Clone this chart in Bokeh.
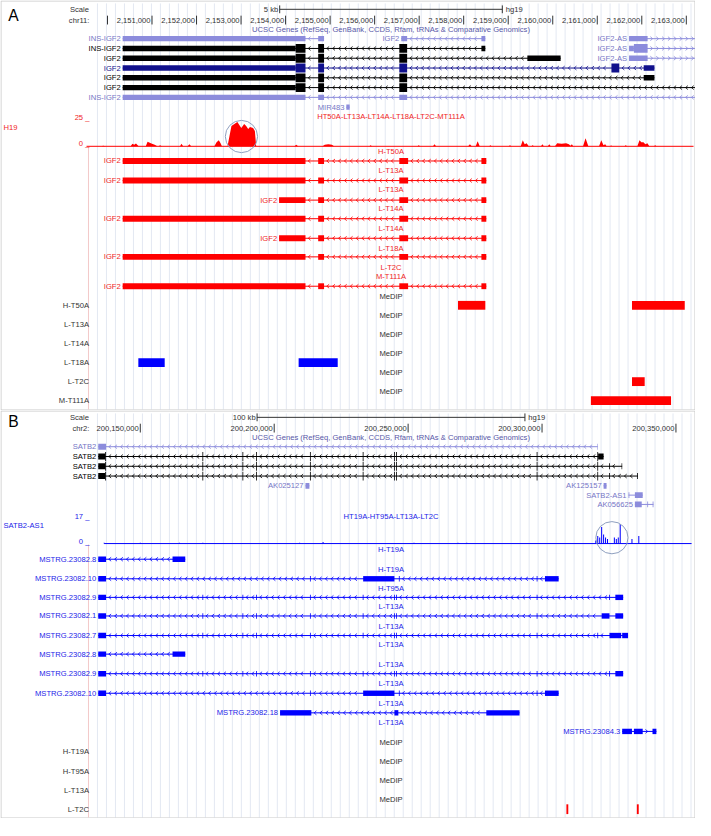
from bokeh.plotting import figure
from bokeh.models import Range1d, ColumnDataSource
from bokeh.layouts import column
from bokeh.embed import file_html
from bokeh.resources import INLINE
from bokeh.core.properties import value

S = 695 / 711.0
FONT = value("Liberation Sans")

# ---------------- colours ----------------
RED, RED_T = "#ff0000", "#f01e1e"
BLUE, BLUE_T = "#0000ff", "#2323e8"
LIGHT, LIGHT_T = "#8c8cdc", "#7676c6"
NAVY = "#10108c"
BLACK = "#000000"
DARK_T = "#333333"
GRID = "#e3e8f2"
FRAME = "#c8c8c8"
SEP = "#f3c9c9"
RING = "#8fa0c0"
CLASS_COL = {"light": LIGHT, "black": BLACK, "navy": NAVY}
CLASS_TXT = {"light": LIGHT_T, "black": BLACK, "navy": NAVY}

# ================= Panel A data (chr11, hg19) =================
A_CHROM = "chr11:"
A_TICKS = [2150000, 2151000, 2152000, 2153000, 2154000, 2155000, 2156000,
           2157000, 2158000, 2159000, 2160000, 2161000, 2162000, 2163000]
A_TICK_LABELS = ["", "2,151,000", "2,152,000", "2,153,000", "2,154,000", "2,155,000",
                 "2,156,000", "2,157,000", "2,158,000", "2,159,000", "2,160,000",
                 "2,161,000", "2,162,000", "2,163,000"]
A_SCALE_BP = 5000
A_SCALE_LABEL = "5 kb"
A_TRACK_TITLE = "UCSC Genes (RefSeq, GenBank, CCDS, Rfam, tRNAs & Comparative Genomics)"

A_GENE_NAMES = ["INS-IGF2", "IGF2", "IGF2-AS", "INS-IGF2", "IGF2-AS", "IGF2", "IGF2-AS",
                "IGF2", "IGF2", "IGF2", "INS-IGF2", "MIR483"]
A_GENE_CLASS = ["light", "light", "light", "black", "light", "black", "light",
                "navy", "black", "black", "light", "light"]
A_GENE_EXONS = [
    [(2150341, 2154447), (2154732, 2154864)],
    [(2156598, 2156730), (2158398, 2158486)],
    [(2161714, 2162131)],
    [(2150341, 2154447), (2154732, 2154864), (2156554, 2156730), (2158398, 2158486)],
    [(2161714, 2162131)],
    [(2150341, 2154447), (2154732, 2154864), (2156554, 2156730), (2159430, 2160177)],
    [(2161714, 2162131)],
    [(2150341, 2154447), (2154732, 2154864), (2156554, 2156730), (2161318, 2161494), (2162043, 2162284)],
    [(2150341, 2154447), (2154732, 2154864), (2156554, 2156730), (2162043, 2162284)],
    [(2150341, 2154447), (2154732, 2154864), (2156554, 2156730)],
    [(2150341, 2154447), (2154732, 2154864), (2156554, 2156730)],
    [(2155364, 2155439)],
]
A_GENE_CDS = [None, None, None, (2154227, 2156730), (2161823, 2162131), (2154227, 2156730), None,
              (2154227, 2161494), (2154227, 2156730), (2154227, 2156730), None, None]
A_GENE_TX = [(2150341, 2154864), (2156598, 2158486), (2161714, 2169895), (2150341, 2158486),
             (2161714, 2169895), (2150341, 2160177), (2161714, 2169895), (2150341, 2162284),
             (2150341, 2162284), (2150341, 2170833), (2150341, 2181000), (2155364, 2155439)]
A_GENE_STRAND = ["-", "-", "+", "-", "+", "-", "+", "-", "-", "-", "-", "-"]
A_GENE_ROW = [0, 0, 0, 1, 1, 2, 2, 3, 4, 5, 6, 7]

A_COV_NAME = "H19"
A_COV_TITLE = "HT50A-LT13A-LT14A-LT18A-LT2C-MT111A"
A_COV_MAX = 25
A_COV_POS = [2149568,
             2149870, 2149900, 2149960,
             2150520, 2150560, 2150600, 2150640, 2150700,
             2150860, 2150900, 2150950, 2151000, 2151060, 2151120,
             2151150, 2151180, 2151220,
             2151630, 2151660, 2151700,
             2151800, 2151840, 2151880,
             2152400, 2152450, 2152500, 2152540, 2152570,
             2152696, 2152740, 2152784, 2152850, 2152917, 2152961, 2153005, 2153070,
             2153115, 2153160, 2153200, 2153270, 2153310, 2153340,
             2154200, 2154240, 2154280,
             2154830, 2154880, 2154960, 2155040, 2155090,
             2155880, 2155910, 2155940,
             2156960, 2156990, 2157020,
             2157310, 2157345, 2157380,
             2158100, 2158140, 2158180, 2158270, 2158314, 2158360,
             2158570, 2158600, 2158630,
             2159010, 2159040, 2159070,
             2159280, 2159327, 2159370, 2159415, 2159460,
             2159520, 2159548, 2159580,
             2159735, 2159768, 2159800,
             2159890, 2159922, 2159955,
             2160050, 2160100, 2160200, 2160300, 2160363, 2160400, 2160429, 2160460,
             2160680, 2160737, 2160800,
             2161040, 2161090, 2161140, 2161178, 2161210,
             2161290, 2161310, 2161330,
             2161610, 2161640, 2161670,
             2161900, 2161949, 2161990, 2162037, 2162080, 2162125, 2162170,
             2162270, 2162301, 2162330,
             2163250]
A_COV_VAL = [0,
             0, 0.6, 0,
             0, 2.5, 1.5, 2.8, 0,
             0, 4.5, 3.5, 2.5, 1.5, 0,
             0, 1, 0,
             0, 2.5, 0,
             0, 2, 0,
             0, 4, 6, 3, 0,
             0, 10, 20, 22, 24, 21, 18, 22,
             20, 17, 19, 18, 15, 0,
             0, 1.5, 0,
             0, 1.5, 2, 1.5, 0,
             0, 1, 0,
             0, 1, 0,
             0, 2, 0,
             0, 2, 0, 0, 5, 0,
             0, 1, 0,
             0, 1, 0,
             0, 6, 2, 3, 0,
             0, 1, 0,
             0, 2, 0,
             0, 2, 0,
             0, 3, 2.5, 3, 2, 0.5, 2, 0,
             0, 8, 0,
             0, 6, 1, 2, 0,
             0, 1, 0,
             0, 1, 0,
             0, 6, 4, 4, 2, 3, 0,
             0, 1, 0,
             0]

A_TX_SAMPLES = ["H-T50A", "L-T13A", "L-T13A", "L-T14A", "L-T14A", "L-T18A", "M-T111A"]
A_TX_NAME = "IGF2"
A_TX_FULL = [(2150341, 2154447), (2154732, 2154864), (2156554, 2156752), (2158398, 2158508)]
A_TX_SHORT = [(2153854, 2154447), (2154732, 2154864), (2156554, 2156752), (2158398, 2158508)]
A_TX_EXONS = [A_TX_FULL, A_TX_FULL, A_TX_SHORT, A_TX_FULL, A_TX_SHORT, A_TX_FULL, A_TX_FULL]
A_EMPTY_SAMPLE = "L-T2C"

A_MEDIP_SAMPLES = ["H-T50A", "L-T13A", "L-T14A", "L-T18A", "L-T2C", "M-T111A"]
A_MEDIP_PEAKS = [[(2157872, 2158486), (2161780, 2162965)], [], [],
                 [(2150693, 2151285), (2154293, 2155171)],
                 [(2161780, 2162065)], [(2160857, 2162657)]]
A_MEDIP_DIRECTION = ["hyper", "", "", "hypo", "hyper", "hyper"]

# ================= Panel B data (chr2, hg19) =================
B_CHROM = "chr2:"
B_TICKS = [200150000, 200200000, 200250000, 200300000, 200350000]
B_TICK_LABELS = ["200,150,000", "200,200,000", "200,250,000", "200,300,000", "200,350,000"]
B_SCALE_BP = 100000
B_SCALE_LABEL = "100 kb"

SATB2_E0 = (200134307, 200137226)
SATB2_INNER = [(200173200, 200173500), (200188150, 200188450), (200193280, 200193580),
               (200213350, 200213650), (200233050, 200233350), (200244740, 200245040),
               (200245480, 200245780), (200298000, 200298300)]
B_GENE_NAMES = ["SATB2", "SATB2", "SATB2", "SATB2", "AK025127", "AK125157", "SATB2-AS1", "AK056625"]
B_GENE_CLASS = ["light", "black", "black", "black", "light", "light", "light", "light"]
B_GENE_EXONS = [
    [SATB2_E0, (200320600, 200320801)],
    [SATB2_E0] + SATB2_INNER + [(200320650, 200322990)],
    [SATB2_E0] + SATB2_INNER + [(200320650, 200320950), (200325030, 200325330), (200329700, 200329924)],
    [SATB2_E0] + SATB2_INNER + [(200320650, 200320950), (200325030, 200325330), (200335500, 200335800)],
    [(200211678, 200213138)],
    [(200322990, 200324085)],
    [(200332300, 200332600), (200334670, 200337590)],
    [(200334670, 200337225), (200339300, 200339600), (200341300, 200341604)],
]
B_GENE_CDS = [None, (200136900, 200320950), (200136900, 200320950), (200136900, 200320950),
              None, None, None, None]
B_GENE_TX = [(200134307, 200320801), (200134307, 200322990), (200134307, 200329924),
             (200134307, 200335800), (200211678, 200213138), (200322990, 200324085),
             (200332300, 200337590), (200334670, 200341604)]
B_GENE_STRAND = ["-", "-", "-", "-", "-", "-", "+", "+"]
B_GENE_ROW_Y = [456, 466, 476, 486, 496, 496, 505.5, 515]

B_COV_NAME = "SATB2-AS1"
B_COV_TITLE = "HT19A-HT95A-LT13A-LT2C"
B_COV_MAX = 17
B_COV_POS = [200136496, 200150000, 200164598, 200173357, 200209488, 200218248, 200252189,
             200268612, 200271897, 200320071, 200320801, 200321531, 200322261, 200322990,
             200323720, 200324450, 200327006, 200327736, 200328466, 200329195, 200333575,
             200336130]
B_COV_VAL = [0.6, 0.6, 0.6, 0.6, 0.6, 1.0, 0.6, 0.6, 0.6, 2, 5, 4, 11, 6, 4, 3, 4, 3, 4, 13, 3, 5]

B_TX_SAMPLES = ["H-T19A", "H-T19A", "H-T95A", "L-T13A", "L-T13A", "L-T13A", "L-T13A",
                "L-T13A", "L-T13A", "L-T13A"]
B_TX_NAMES = ["MSTRG.23082.8", "MSTRG.23082.10", "MSTRG.23082.9", "MSTRG.23082.1",
              "MSTRG.23082.7", "MSTRG.23082.8", "MSTRG.23082.9", "MSTRG.23082.10",
              "MSTRG.23082.18", "MSTRG.23084.3"]
TX_8 = [SATB2_E0, (200162044, 200166788)]
TX_10 = [SATB2_E0, (200213350, 200213650), (200233211, 200244890), (200246550, 200246850),
         (200298000, 200298300), (200301093, 200306203)]
TX_9 = [SATB2_E0] + SATB2_INNER + [(200325030, 200325330), (200327370, 200330289)]
TX_1 = [SATB2_E0] + SATB2_INNER + [(200322261, 200325180), (200327370, 200330289)]
TX_7 = [SATB2_E0] + SATB2_INNER + [(200320650, 200320950), (200325180, 200329560), (200329924, 200332114)]
TX_18 = [(200202189, 200213868), (200244890, 200246350), (200279196, 200291604)]
TX_84 = [(200329925, 200333575), (200334305, 200337589), (200341239, 200342699)]
B_TX_EXONS = [TX_8, TX_10, TX_9, TX_1, TX_7, TX_8, TX_9, TX_10, TX_18, TX_84]
B_TX_STRAND = ["-", "-", "-", "-", "-", "-", "-", "-", "-", "+"]

B_MEDIP_SAMPLES = ["H-T19A", "H-T95A", "L-T13A", "L-T2C"]
B_MEDIP_PEAKS = [[], [], [], [(200309100, 200309800), (200335400, 200336100)]]


# ================= drawing helpers =================
class Panel:
    def __init__(self, px0, bp0, ppb, ytop, ybot):
        self.px0, self.bp0, self.ppb = px0, bp0, ppb
        self.ytop, self.ybot = ytop, ybot
        self.q, self.s, self.c, self.t = {}, {}, {}, {}
        h = int(round((ybot - ytop) * S))
        self.p = figure(width=695, height=h, x_range=Range1d(self.X(0), self.X(711)),
                        y_range=Range1d(ybot, ytop), output_backend="svg",
                        toolbar_location=None, min_border=0,
                        x_axis_type=None, y_axis_type=None)
        self.p.grid.visible = False
        self.p.outline_line_color = None
        self.p.background_fill_color = "white"
        self.p.border_fill_color = "white"

    def X(self, px):
        return self.bp0 + (px - self.px0) / self.ppb

    def P(self, bp):
        return self.px0 + (bp - self.bp0) * self.ppb

    def box(self, color, l, r, y, h):
        d = self.q.setdefault(color, {"left": [], "right": [], "top": [], "bottom": []})
        d["left"].append(l); d["right"].append(r)
        d["top"].append(y - h / 2.0); d["bottom"].append(y + h / 2.0)

    def line(self, color, x0, y0, x1, y1, w=1.0):
        d = self.s.setdefault((color, w), {"x0": [], "y0": [], "x1": [], "y1": []})
        d["x0"].append(x0); d["y0"].append(y0); d["x1"].append(x1); d["y1"].append(y1)

    def arrows(self, color, a, b, y, strand, step=6.0):
        pa = max(self.P(a), 88.0)
        pb = min(self.P(b), 712.0)
        d = self.c.setdefault(color, {"xs": [], "ys": []})
        sg = 1.0 if strand == "-" else -1.0
        c = pa + 4.0
        while c <= pb - 3.0:
            d["xs"].append([self.X(c + sg * 1.2), self.X(c - sg * 1.2), self.X(c + sg * 1.2)])
            d["ys"].append([y - 2.0, y, y + 2.0])
            c += step

    def tx(self, y, exons, cds, span, strand, color, h_thin, h_thick):
        lo, hi = span
        self.line(color, lo, y, hi, y)
        ex = sorted(exons)
        prev = lo
        for s, e in ex:
            if s > prev:
                self.arrows(color, prev, s, y, strand)
            prev = max(prev, e)
        if hi > prev:
            self.arrows(color, prev, hi, y, strand)
        for s, e in ex:
            if cds is None:
                self.box(color, s, e, y, h_thin)
                continue
            cs, ce = cds
            if s < cs:
                self.box(color, s, min(e, cs), y, h_thin)
            if e > ce:
                self.box(color, max(s, ce), e, y, h_thin)
            ts, te = max(s, cs), min(e, ce)
            if te > ts:
                self.box(color, ts, te, y, h_thick)

    def label(self, txt, px, y, color=DARK_T, align="left", size=7.8):
        d = self.t.setdefault((color, align, size), {"x": [], "y": [], "text": []})
        d["x"].append(self.X(px)); d["y"].append(y); d["text"].append(txt)

    def grid(self, x0=90.0, step=9.2):
        xs0, ys0, xs1, ys1 = [], [], [], []
        x = x0 + step
        while x < 710:
            xs0.append(self.X(x)); xs1.append(self.X(x))
            ys0.append(self.ytop + 3); ys1.append(self.ybot - 1)
            x += step
        self.p.segment(x0=xs0, y0=ys0, x1=xs1, y1=ys1, line_color=GRID, line_width=1)

    def frame(self):
        t, b = self.ytop + 0.5, self.ybot - 0.5
        l, r = self.X(0.5), self.X(710.5)
        self.p.segment(x0=[l, l, l, r], y0=[t, b, t, t], x1=[r, r, l, r], y1=[t, b, b, b],
                       line_color=FRAME, line_width=1)

    def render(self):
        for (color, w), d in self.s.items():
            self.p.segment(source=ColumnDataSource(d), x0="x0", y0="y0", x1="x1", y1="y1",
                           line_color=color, line_width=w)
        for color, d in self.c.items():
            self.p.multi_line(xs=d["xs"], ys=d["ys"], line_color=color, line_width=0.8)
        for color, d in self.q.items():
            self.p.quad(source=ColumnDataSource(d), left="left", right="right", top="top",
                        bottom="bottom", fill_color=color, line_color=None)
        for (color, align, size), d in self.t.items():
            self.p.text(source=ColumnDataSource(d), x="x", y="y", text="text",
                        text_font=FONT, text_font_size=f"{size * S:.2f}px",
                        text_color=color, text_align=align, text_baseline="middle")


def ruler(P, ticks, labels, chrom, y_scale, y_ruler, scale_bp, scale_label, tag, y_tag):
    P.label(tag, 8, y_tag, color=BLACK, size=16)
    P.label("Scale", 90.5, y_scale, align="right")
    P.label(chrom, 91, y_ruler, align="right")
    cbp = P.X(399.5)
    a, b = cbp - scale_bp / 2.0, cbp + scale_bp / 2.0
    P.line(DARK_T, a, y_scale, b, y_scale)
    P.line(DARK_T, a, y_scale - 4, a, y_scale + 4)
    P.line(DARK_T, b, y_scale - 4, b, y_scale + 4)
    P.label(scale_label, P.P(a) - 1.5, y_scale, align="right")
    P.label("hg19", P.P(b) + 3.5, y_scale, align="left")
    for tk, lb in zip(ticks, labels):
        P.line(DARK_T, tk, y_ruler - 4.5, tk, y_ruler + 4.5)
        if lb:
            P.label(lb, P.P(tk) - 1.5, y_ruler, align="right")


# ================= Panel A =================
A = Panel(155.0, 2151000, 0.04555, 0, 419)
A.grid()
A.frame()
A.p.segment(x0=[A.X(90)], y0=[150], x1=[A.X(90)], y1=[418], line_color=SEP, line_width=1)
ruler(A, A_TICKS, A_TICK_LABELS, A_CHROM, 9, 20, A_SCALE_BP, A_SCALE_LABEL, "A", 15)
A.label(A_TRACK_TITLE, 399.5, 30, color="#5858a8", align="center")

for name, cls, ex, cds, span, st, row in zip(A_GENE_NAMES, A_GENE_CLASS, A_GENE_EXONS, A_GENE_CDS,
                                              A_GENE_TX, A_GENE_STRAND, A_GENE_ROW):
    y = 39 + 10 * row
    A.tx(y, ex, cds, span, st, CLASS_COL[cls], 5.5, 9.0)
    A.label(name, A.P(span[0]) - 2, y, color=CLASS_TXT[cls], align="right")

# coverage track
A.p.extra_y_ranges = {"cov": Range1d(start=(149 - 419) * A_COV_MAX / 26.0, end=149 * A_COV_MAX / 26.0)}
A.p.varea(x=A_COV_POS, y1=0, y2=A_COV_VAL, fill_color=RED, y_range_name="cov")
A.p.segment(x0=[A.X(88)], y0=[149], x1=[A.X(709)], y1=[149], line_color=RED, line_width=1)
A.label(A_COV_TITLE, 399.5, 119, color=RED_T, align="center")
A.label(f"{A_COV_MAX} _", 91, 120, color=RED_T, align="right")
A.label("0 _", 91, 146, color=RED_T, align="right")
A.label(A_COV_NAME, 3, 130, color=RED_T, align="left")
A.p.scatter(x=[A.X(246.5)], y=[139], size=33 * S, marker="circle", fill_color=None,
            line_color=RING, line_width=1)

# sample transcripts
A_TX_ROWS = [164, 184, 204, 223, 243, 262, 292]
A_TX_LABEL_Y = [154, 174, 193, 213, 233, 253, 282]
for smp, ex, y, ly in zip(A_TX_SAMPLES, A_TX_EXONS, A_TX_ROWS, A_TX_LABEL_Y):
    span = (ex[0][0], ex[-1][1])
    A.tx(y, ex, span, span, "-", RED, 6.0, 6.0)
    A.label(A_TX_NAME, A.P(span[0]) - 2, y, color=RED_T, align="right")
    A.label(smp, 399.5, ly, color=RED_T, align="center")
A.label(A_EMPTY_SAMPLE, 399.5, 273, color=RED_T, align="center")

# MeDIP tracks
A_MEDIP_Y = [311.5, 331, 350.5, 370, 389.5, 409]
for smp, peaks, kind, y in zip(A_MEDIP_SAMPLES, A_MEDIP_PEAKS, A_MEDIP_DIRECTION, A_MEDIP_Y):
    A.label(smp, 90.5, y, color=DARK_T, align="right")
    A.label("MeDIP", 399.5, y - 9.5, color=DARK_T, align="center")
    for s, e in peaks:
        A.box(BLUE if kind == "hypo" else RED, s, e, y, 9.0)
A.render()

# ================= Panel B =================
B = Panel(143.0, 200150000, 0.00274, 419, 836)
B.grid()
B.frame()
B.p.segment(x0=[B.X(90)], y0=[556], x1=[B.X(90)], y1=[835], line_color=SEP, line_width=1)
ruler(B, B_TICKS, B_TICK_LABELS, B_CHROM, 426, 437, B_SCALE_BP, B_SCALE_LABEL, "B", 430)
B.label(A_TRACK_TITLE, 399.5, 447, color="#5858a8", align="center")

for name, cls, ex, cds, span, st, y in zip(B_GENE_NAMES, B_GENE_CLASS, B_GENE_EXONS, B_GENE_CDS,
                                            B_GENE_TX, B_GENE_STRAND, B_GENE_ROW_Y):
    B.tx(y, ex, cds, span, st, CLASS_COL[cls], 6.0, 9.0)
    B.label(name, B.P(span[0]) - 2, y, color=CLASS_TXT[cls], align="right")

B.p.extra_y_ranges = {"cov": Range1d(start=(555 - 836) * B_COV_MAX / 26.0, end=(555 - 419) * B_COV_MAX / 26.0)}
B.p.quad(left=[v - 190 for v in B_COV_POS], right=[v + 190 for v in B_COV_POS],
         bottom=0, top=B_COV_VAL, fill_color=BLUE, line_color=None, y_range_name="cov")
B.p.segment(x0=[B.X(106)], y0=[555], x1=[B.X(707)], y1=[555], line_color=BLUE, line_width=1)
B.label(B_COV_TITLE, 399.5, 527, color=BLUE_T, align="center")
B.label(f"{B_COV_MAX} _", 91, 527, color=BLUE_T, align="right")
B.label("0 _", 91, 553, color=BLUE_T, align="right")
B.label(B_COV_NAME, 3, 537, color=BLUE_T, align="left")
B.p.scatter(x=[B.X(625.5)], y=[549], size=33 * S, marker="circle", fill_color=None,
            line_color=RING, line_width=1)

B_TX_ROWS = [571, 591, 610, 629, 649, 668, 688, 708, 728, 747]
for smp, name, ex, st, y in zip(B_TX_SAMPLES, B_TX_NAMES, B_TX_EXONS, B_TX_STRAND, B_TX_ROWS):
    span = (min(e[0] for e in ex), max(e[1] for e in ex))
    B.tx(y, ex, None, span, st, BLUE, 5.5, 5.5)
    B.label(name, B.P(span[0]) - 2, y, color=BLUE_T, align="right")
    B.label(smp, 399.5, y - 9.5, color=BLUE_T, align="center")

B_MEDIP_Y = [768, 787.5, 807, 826.5]
for smp, peaks, y in zip(B_MEDIP_SAMPLES, B_MEDIP_PEAKS, B_MEDIP_Y):
    B.label(smp, 90.5, y, color=DARK_T, align="right")
    B.label("MeDIP", 399.5, y - 9.5, color=DARK_T, align="center")
    for s, e in peaks:
        B.box(RED, s, e, y, 10.0)
B.render()

layout = column(A.p, B.p, spacing=0)
open("out.html", "w").write(file_html(layout, INLINE))
